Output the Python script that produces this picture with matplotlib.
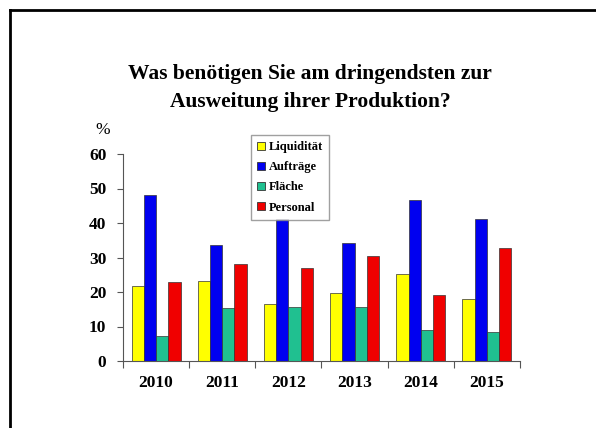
import matplotlib
matplotlib.use("Agg")
import matplotlib.pyplot as plt
import numpy as np
from matplotlib.lines import Line2D

years = ["2010", "2011", "2012", "2013", "2014", "2015"]
series_names = ["Liquidität", "Aufträge", "Fläche", "Personal"]
liquiditaet = [21.8, 23.3, 16.5, 19.6, 25.2, 18.0]
auftraege = [48.0, 33.6, 41.1, 34.3, 46.7, 41.2]
flaeche = [7.2, 15.3, 15.7, 15.7, 9.0, 8.5]
personal = [23.0, 28.1, 27.1, 30.3, 19.1, 32.7]
colors = ["#FFFF00", "#0000F0", "#20C090", "#F00000"]
yticks = [0, 10, 20, 30, 40, 50, 60]

plt.rcParams['font.family'] = ['Liberation Serif', 'DejaVu Serif']
plt.rcParams['font.weight'] = 'bold'

fig = plt.figure(figsize=(5.96, 4.28), dpi=100)
ax = fig.add_axes([123/596, 1-361/428, 397/596, (361-154)/428])

data = [liquiditaet, auftraege, flaeche, personal]
x = np.arange(len(years))
w = 0.185
for i, (vals, c, name) in enumerate(zip(data, colors, series_names)):
    ax.bar(x + (i - 1.5) * w, vals, width=w, color=c, edgecolor="#333333",
           linewidth=0.5, label=name)

ax.set_xlim(-0.5, len(years) - 0.5)
ax.set_ylim(0, 60)
ax.set_yticks(yticks)
ax.set_yticklabels([str(v) for v in yticks], fontsize=12.5, fontweight='bold')
ax.set_xticks(x)
ax.set_xticklabels(years, fontsize=12.5, fontweight='bold')
ax.set_xticks(np.arange(len(years) + 1) - 0.5, minor=True)
ax.tick_params(axis='x', which='major', length=0, pad=10)
ax.tick_params(axis='x', which='minor', length=5, width=0.8, color="#555555")
ax.tick_params(axis='y', length=4, width=0.8, color="#555555", pad=8)
for s in ["top", "right"]:
    ax.spines[s].set_visible(False)
for s in ["left", "bottom"]:
    ax.spines[s].set_color("#555555")
    ax.spines[s].set_linewidth(0.8)

fig.text(103/596, 1-130/428, "%", fontsize=12.5, fontweight='normal', ha='center', va='center')

fig.text(310/596, 1-88/428, "Was benötigen Sie am dringendsten zur\nAusweitung ihrer Produktion?",
         fontsize=15.5, fontweight='bold', ha='center', va='center', linespacing=1.6)

handles = [Line2D([], [], marker='s', linestyle='none', markersize=6,
                  markerfacecolor=c, markeredgecolor="#333333", markeredgewidth=0.6)
           for c in colors]
leg = fig.legend(handles, series_names, loc='upper left',
                 bbox_to_anchor=(251/596, 1-135/428), prop={'size': 9, 'weight': 'bold'},
                 frameon=True, fancybox=False, edgecolor="#888888",
                 handlelength=0.6, handletextpad=0.3, labelspacing=0.65,
                 borderpad=0.5, borderaxespad=0)
leg.get_frame().set_linewidth(1.0)

# outer frame lines (top and left)
fig.add_artist(Line2D([10/596, 1], [1-10/428, 1-10/428], color='black', lw=2,
                      transform=fig.transFigure))
fig.add_artist(Line2D([10/596, 10/596], [0, 1-10/428], color='black', lw=2,
                      transform=fig.transFigure))

fig.savefig("out.png", dpi=100)
